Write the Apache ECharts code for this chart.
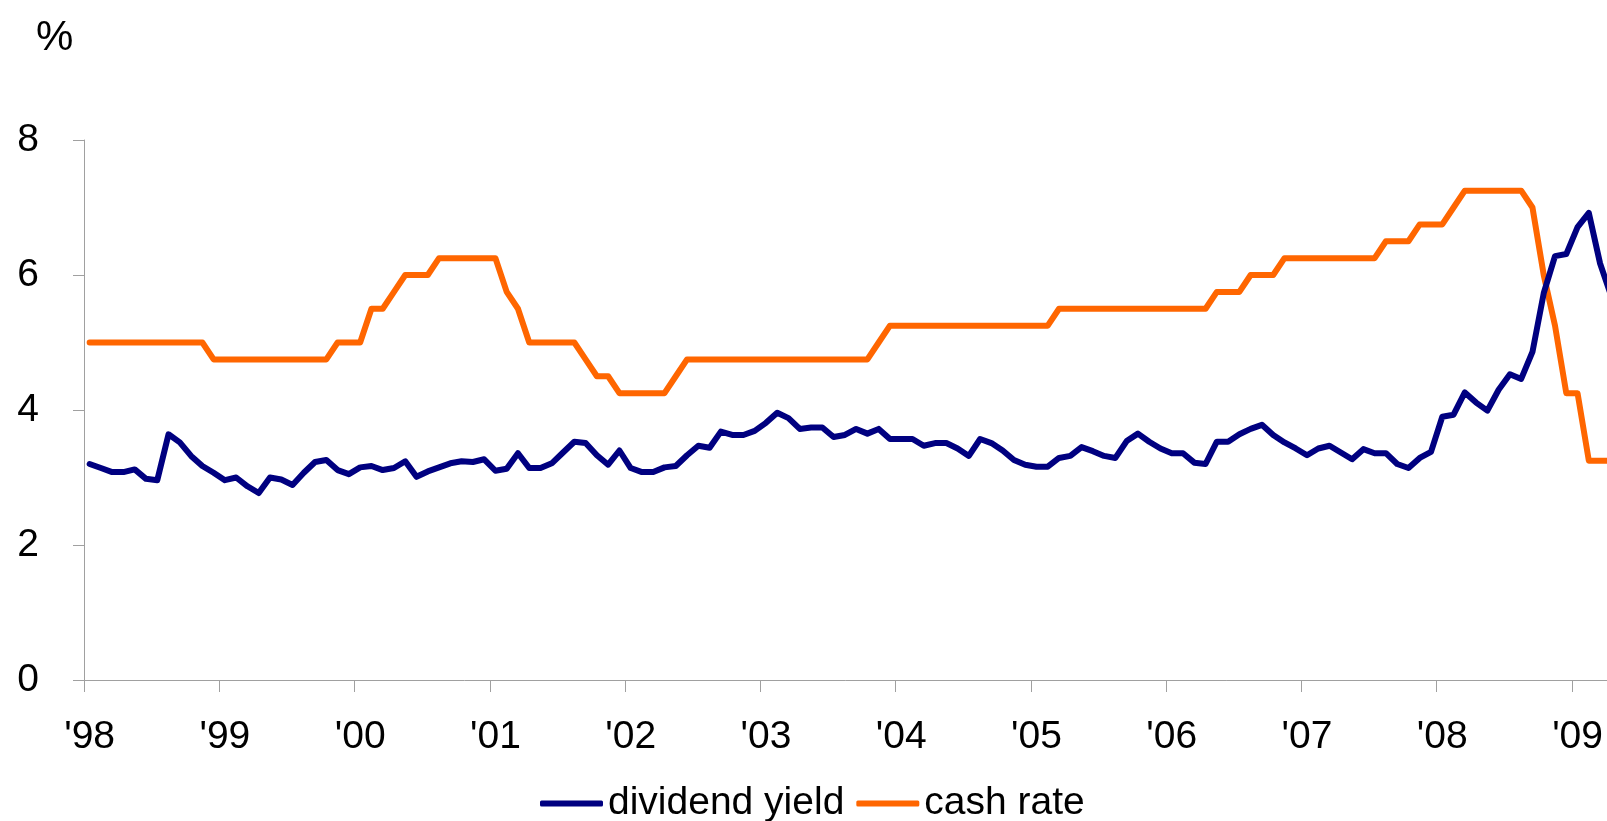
<!DOCTYPE html>
<html>
<head>
<meta charset="utf-8">
<script src="https://cdn.jsdelivr.net/npm/echarts@6/dist/echarts.min.js"></script>
<style>
    html, body { margin: 0; padding: 0; background: #fff; }
    #main { width: 1607px; height: 821px; }
</style>
</head>
<body>
<div id="main"></div>
<script>
// tick labels, one per year (monthly data, Jan 1998 - Apr 2009)
var yearLabels = ["'98", "'99", "'00", "'01", "'02", "'03", "'04", "'05", "'06", "'07", "'08", "'09"];
var monthNames = ['Jan', 'Feb', 'Mar', 'Apr', 'May', 'Jun', 'Jul', 'Aug', 'Sep', 'Oct', 'Nov', 'Dec'];
var lastYearMonths = 4;

// dividend yield, %
var dy1998 = [3.20, 3.14, 3.08, 3.08, 3.12, 2.98, 2.96, 3.64, 3.52, 3.32, 3.17, 3.07];
var dy1999 = [2.96, 3.00, 2.87, 2.77, 3.00, 2.97, 2.89, 3.07, 3.23, 3.26, 3.11, 3.05];
var dy2000 = [3.15, 3.17, 3.11, 3.14, 3.24, 3.01, 3.09, 3.15, 3.21, 3.24, 3.23, 3.27];
var dy2001 = [3.10, 3.13, 3.36, 3.14, 3.14, 3.21, 3.37, 3.53, 3.51, 3.33, 3.19, 3.40];
var dy2002 = [3.14, 3.08, 3.08, 3.15, 3.17, 3.33, 3.47, 3.44, 3.68, 3.63, 3.63, 3.69];
var dy2003 = [3.81, 3.96, 3.88, 3.72, 3.74, 3.74, 3.60, 3.63, 3.72, 3.65, 3.72, 3.57];
var dy2004 = [3.57, 3.57, 3.47, 3.51, 3.51, 3.43, 3.32, 3.57, 3.51, 3.40, 3.26, 3.19];
var dy2005 = [3.16, 3.16, 3.29, 3.32, 3.45, 3.39, 3.32, 3.29, 3.54, 3.65, 3.53, 3.43];
var dy2006 = [3.36, 3.36, 3.22, 3.20, 3.53, 3.53, 3.64, 3.72, 3.78, 3.63, 3.52, 3.43];
var dy2007 = [3.33, 3.43, 3.47, 3.37, 3.27, 3.42, 3.36, 3.36, 3.20, 3.14, 3.29, 3.38];
var dy2008 = [3.90, 3.93, 4.26, 4.11, 3.99, 4.30, 4.53, 4.46, 4.86, 5.73, 6.28, 6.31];
var dy2009 = [6.71, 6.92, 6.17, 5.68];

// cash rate, %
var cr1998 = [5, 5, 5, 5, 5, 5, 5, 5, 5, 5, 5, 4.75];
var cr1999 = [4.75, 4.75, 4.75, 4.75, 4.75, 4.75, 4.75, 4.75, 4.75, 4.75, 5, 5];
var cr2000 = [5, 5.5, 5.5, 5.75, 6, 6, 6, 6.25, 6.25, 6.25, 6.25, 6.25];
var cr2001 = [6.25, 5.75, 5.5, 5, 5, 5, 5, 5, 4.75, 4.5, 4.5, 4.25];
var cr2002 = [4.25, 4.25, 4.25, 4.25, 4.5, 4.75, 4.75, 4.75, 4.75, 4.75, 4.75, 4.75];
var cr2003 = [4.75, 4.75, 4.75, 4.75, 4.75, 4.75, 4.75, 4.75, 4.75, 4.75, 5, 5.25];
var cr2004 = [5.25, 5.25, 5.25, 5.25, 5.25, 5.25, 5.25, 5.25, 5.25, 5.25, 5.25, 5.25];
var cr2005 = [5.25, 5.25, 5.5, 5.5, 5.5, 5.5, 5.5, 5.5, 5.5, 5.5, 5.5, 5.5];
var cr2006 = [5.5, 5.5, 5.5, 5.5, 5.75, 5.75, 5.75, 6, 6, 6, 6.25, 6.25];
var cr2007 = [6.25, 6.25, 6.25, 6.25, 6.25, 6.25, 6.25, 6.5, 6.5, 6.5, 6.75, 6.75];
var cr2008 = [6.75, 7, 7.25, 7.25, 7.25, 7.25, 7.25, 7.25, 7, 6, 5.25, 4.25];
var cr2009 = [4.25, 3.25, 3.25, 3.25];

var yTicks = [0, 2, 4, 6, 8];

var FONT = "'Liberation Sans', Arial, sans-serif";

function buildCategories() {
    var cats = [];
    for (var y = 0; y < yearLabels.length; y++) {
        var n = (y === yearLabels.length - 1) ? lastYearMonths : 12;
        for (var m = 0; m < n; m++) {
            // january carries the year label, other months just a name
            cats.push(m === 0 ? yearLabels[y] : monthNames[m] + ' ' + yearLabels[y]);
        }
    }
    return cats;
}

var categories = buildCategories();
var dividendYield = [].concat(dy1998, dy1999, dy2000, dy2001, dy2002, dy2003,
    dy2004, dy2005, dy2006, dy2007, dy2008, dy2009);
var cashRate = [].concat(cr1998, cr1999, cr2000, cr2001, cr2002, cr2003,
    cr2004, cr2005, cr2006, cr2007, cr2008, cr2009);

var myChart = echarts.init(document.getElementById('main'), null, {renderer: 'canvas'});
var option = {
    animation: false,
    backgroundColor: '#ffffff',
    title: {
        text: '%',
        left: 31,
        top: 12,
        textStyle: {fontFamily: FONT, fontSize: 42, fontWeight: 'normal', color: '#000'}
    },
    legend: {
        left: 535,
        top: 779,
        icon: 'roundRect',
        itemWidth: 63,
        itemHeight: 6,
        itemGap: 12,
        textStyle: {fontFamily: FONT, fontSize: 39, color: '#000'},
        data: ['dividend yield', 'cash rate']
    },
    grid: {
        left: 84,
        top: 140,
        width: 1533,
        height: 540,
        containLabel: false,
        outerBoundsMode: 'none'
    },
    xAxis: {
        type: 'category',
        data: categories,
        boundaryGap: true,
        axisLine: {lineStyle: {color: '#a0a0a0', width: 1}},
        axisTick: {
            show: true,
            length: 12,
            alignWithLabel: false,
            interval: function (index) {
                return index % 12 === 0;
            },
            lineStyle: {color: '#a0a0a0'}
        },
        axisLabel: {
            interval: function (index) {
                return index % 12 === 0;
            },
            margin: 38,
            fontFamily: FONT,
            fontSize: 39,
            color: '#000'
        },
        splitLine: {show: false}
    },
    yAxis: {
        type: 'value',
        min: yTicks[0],
        max: yTicks[yTicks.length - 1],
        interval: 2,
        axisLine: {show: true, lineStyle: {color: '#a0a0a0', width: 1}},
        axisTick: {show: true, length: 11, lineStyle: {color: '#a0a0a0'}},
        axisLabel: {margin: 45, fontFamily: FONT, fontSize: 39, color: '#000'},
        splitLine: {show: false}
    },
    series: [{
        name: 'dividend yield',
        type: 'line',
        data: dividendYield,
        showSymbol: false,
        symbol: 'none',
        lineStyle: {color: '#000080', width: 6, join: 'round', cap: 'round'},
        itemStyle: {color: '#000080'},
        z: 3
    }, {
        name: 'cash rate',
        type: 'line',
        data: cashRate,
        showSymbol: false,
        symbol: 'none',
        lineStyle: {color: '#ff6600', width: 6, join: 'round', cap: 'round'},
        itemStyle: {color: '#ff6600'},
        z: 2
    }]
};
myChart.setOption(option);
</script>
</body>
</html>
